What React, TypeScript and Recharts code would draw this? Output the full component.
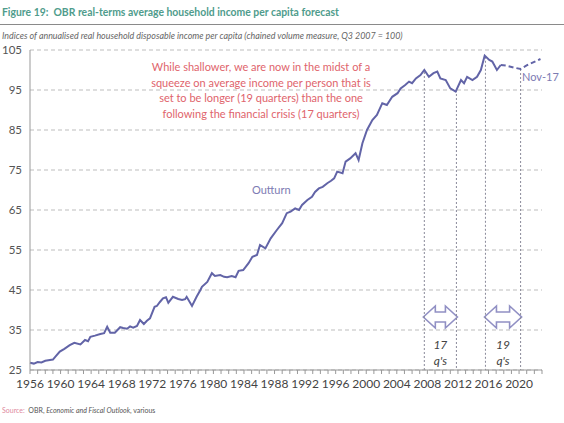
import { LineChart, Line, XAxis, YAxis, CartesianGrid, ReferenceLine, ReferenceArea } from "recharts";

const outturnYears = [
  1956.0, 1956.5, 1957.0, 1957.5, 1958.0, 1958.6, 1959.0, 1959.3, 1959.9, 1960.5,
  1961.2, 1961.8, 1962.6, 1963.2, 1963.6, 1963.9, 1964.5, 1965.2, 1965.7, 1966.1,
  1966.5, 1967.1, 1967.8, 1968.2, 1968.7, 1969.1, 1969.5, 1970.0, 1970.4, 1970.9,
  1971.3, 1971.7, 1972.3, 1972.6, 1973.0, 1973.4, 1973.8, 1974.1, 1974.7, 1975.4,
  1975.9, 1976.3, 1976.5, 1977.2, 1977.8, 1978.3, 1978.5, 1979.2, 1979.8, 1980.2,
  1980.9, 1981.4, 1981.8, 1982.4, 1982.9, 1983.3, 1983.9, 1984.6, 1985.1, 1985.7,
  1986.1, 1986.8, 1987.5, 1988.3, 1989.0, 1989.6, 1990.1, 1990.7, 1991.2, 1991.6,
  1992.3, 1992.9, 1993.3, 1993.8, 1994.3, 1994.9, 1995.4, 1995.8, 1996.2, 1996.9,
  1997.3, 1997.9, 1998.6, 1999.0, 1999.5, 2000.1, 2000.8, 2001.4, 2002.1, 2002.7,
  2003.4, 2004.1, 2004.5, 2005.1, 2005.6, 2006.0, 2006.5, 2007.1, 2007.6, 2008.2,
  2008.8, 2009.3, 2009.7, 2010.4, 2011.0, 2011.7, 2012.4, 2012.8, 2013.2, 2013.9,
  2014.5, 2015.0, 2015.5, 2016.1, 2016.5, 2017.1, 2017.6,
];
const outturnValues = [
  26.8, 26.6, 27.0, 26.9, 27.3, 27.5, 27.6, 28.3, 29.6, 30.3,
  31.2, 31.8, 31.4, 32.5, 32.2, 33.3, 33.6, 34.0, 34.2, 35.8,
  34.3, 34.3, 35.7, 35.5, 35.3, 35.9, 35.6, 36.0, 37.5, 36.5,
  37.3, 37.9, 40.8, 41.0, 42.0, 42.9, 43.2, 41.8, 43.3, 42.75,
  42.5, 42.7, 43.3, 41.0, 43.3, 45.0, 45.8, 47.0, 49.2, 48.5,
  48.75, 48.3, 48.2, 48.5, 48.2, 49.8, 50.0, 51.7, 53.3, 53.75,
  56.25, 55.4, 57.9, 60.0, 61.7, 64.2, 64.6, 65.4, 65.0, 66.25,
  67.5, 68.3, 69.5, 70.4, 70.8, 71.7, 72.3, 72.9, 74.6, 74.2,
  77.1, 77.9, 79.2, 77.5, 81.7, 85.0, 87.5, 88.75, 91.7, 91.25,
  93.3, 94.2, 95.4, 96.25, 97.1, 96.7, 97.9, 98.75, 100.0, 98.3,
  99.2, 99.6, 97.9, 97.5, 95.4, 94.6, 97.5, 96.7, 98.3, 97.5,
  98.3, 100.0, 103.6, 102.5, 102.1, 100.0, 101.25,
];

const forecastYears = [2017.6, 2018.3, 2019.3, 2020.2, 2021.1, 2022.8];
const forecastValues = [101.25, 101.1, 100.6, 100.25, 101.25, 102.75];

const yTicks = [25, 35, 45, 55, 65, 75, 85, 95, 105];
const xYears = Array.from({ length: 68 }, (_, i) => 1956 + i);

// start / end of the two squeezes, and where the marker lines start
const squeezeMarks = [
  { x: 2007.6, top: 99.5 },
  { x: 2011.8, top: 95 },
  { x: 2015.6, top: 103.3 },
  { x: 2020.2, top: 100.25 },
];
const squeezes = [
  { from: 2007.6, to: 2011.8, label: "17" },
  { from: 2015.6, to: 2020.2, label: "19" },
];

const outturn = outturnYears.map((year, i) => ({ year, value: outturnValues[i] }));
const forecast = forecastYears.map((year, i) => ({ year, value: forecastValues[i] }));

const LINE = "#6264a7";

const DoubleArrow = (props: any) => {
  const { x, y, width, height, label } = props;
  const mid = y + height / 2;
  const head = 12;
  const shaft = 5;
  const l = x - 1;
  const r = x + width + 1;
  const pts = [
    [l, mid],
    [l + head, y],
    [l + head, mid - shaft],
    [r - head, mid - shaft],
    [r - head, y],
    [r, mid],
    [r - head, y + height],
    [r - head, mid + shaft],
    [l + head, mid + shaft],
    [l + head, y + height],
  ]
    .map((p) => p.join(","))
    .join(" ");
  const cx = x + width / 2;
  return (
    <g>
      <polygon points={pts} fill="#fff" stroke="#9190c4" strokeWidth={1.6} />
      <text x={cx} y={mid + 32} textAnchor="middle" fontSize={12} fontStyle="italic" fill="#444">
        {label}
      </text>
      <text x={cx} y={mid + 48} textAnchor="middle" fontSize={12} fontStyle="italic" fill="#444">
        q's
      </text>
    </g>
  );
};

export default function App() {
  return (
    <div style={{ position: "relative", width: 564, height: 423, background: "#fff", fontFamily: "Lato, sans-serif" }}>
      <style>{"body{margin:0}"}</style>
      <LineChart width={564} height={423} margin={{ top: 50, right: 22, bottom: 26, left: 0 }}>
        <CartesianGrid vertical={false} stroke="#bdbdbd" strokeDasharray="4 3" />
        <XAxis
          dataKey="year"
          type="number"
          domain={[1956, 2023]}
          ticks={xYears}
          interval={0}
          tickSize={4}
          tickMargin={5}
          height={27}
          tickFormatter={(v: number) => ((v - 1956) % 4 === 0 && v <= 2020 ? String(v) : "")}
          tick={{ fontSize: 12, fill: "#444" }}
          stroke="#999"
          allowDuplicatedCategory={false}
        />
        <YAxis
          type="number"
          domain={[25, 105]}
          ticks={yTicks}
          width={30}
          tickLine={false}
          tick={{ fontSize: 11.5, fill: "#555" }}
          stroke="#999"
        />
        {squeezeMarks.map((m) => (
          <ReferenceLine
            key={m.x}
            segment={[
              { x: m.x, y: m.top },
              { x: m.x, y: 25 },
            ]}
            stroke="#8a8a9a"
            strokeDasharray="2 2"
          />
        ))}
        {squeezes.map((s) => (
          <ReferenceArea
            key={s.from}
            x1={s.from}
            x2={s.to}
            y1={35.5}
            y2={41}
            shape={(p: any) => <DoubleArrow {...p} label={s.label} />}
          />
        ))}
        <Line data={outturn} dataKey="value" stroke={LINE} strokeWidth={2} dot={false} isAnimationActive={false} />
        <Line
          data={forecast}
          dataKey="value"
          stroke={LINE}
          strokeWidth={2}
          strokeDasharray="5 3"
          dot={false}
          isAnimationActive={false}
        />
      </LineChart>

      <div style={{ position: "absolute", left: 2, top: 6, fontSize: 10.4, fontWeight: 700, color: "#4f9c8c", whiteSpace: "nowrap" }}>
        Figure 19:&nbsp; OBR real-terms average household income per capita forecast
      </div>
      <div style={{ position: "absolute", left: 0, top: 24, width: 564, height: 1, background: "#8a8a8a" }} />
      <div style={{ position: "absolute", left: 2, top: 30, fontSize: 8.9, fontStyle: "italic", color: "#666", whiteSpace: "nowrap" }}>
        Indices of annualised real household disposable income per capita (chained volume measure, Q3 2007 = 100)
      </div>

      <div
        style={{
          position: "absolute",
          left: 140,
          top: 59,
          width: 242,
          textAlign: "center",
          fontSize: 11,
          lineHeight: "15.5px",
          color: "#e0646c",
        }}
      >
        <div>While shallower, we are now in the midst of a</div>
        <div>squeeze on average income per person that is</div>
        <div>set to be longer (19 quarters) than the one</div>
        <div>following the financial crisis (17 quarters)</div>
      </div>
      <div style={{ position: "absolute", left: 252, top: 183, fontSize: 11, color: "#7d7bb3" }}>Outturn</div>
      <div style={{ position: "absolute", left: 522, top: 70, fontSize: 11, color: "#7d7bb3" }}>Nov-17</div>

      <div style={{ position: "absolute", left: 2, top: 406, fontSize: 7, color: "#555", whiteSpace: "nowrap" }}>
        <span style={{ color: "#e08aa0" }}>Source:</span>&nbsp; OBR, <i>Economic and Fiscal Outlook</i>, various
      </div>
    </div>
  );
}
